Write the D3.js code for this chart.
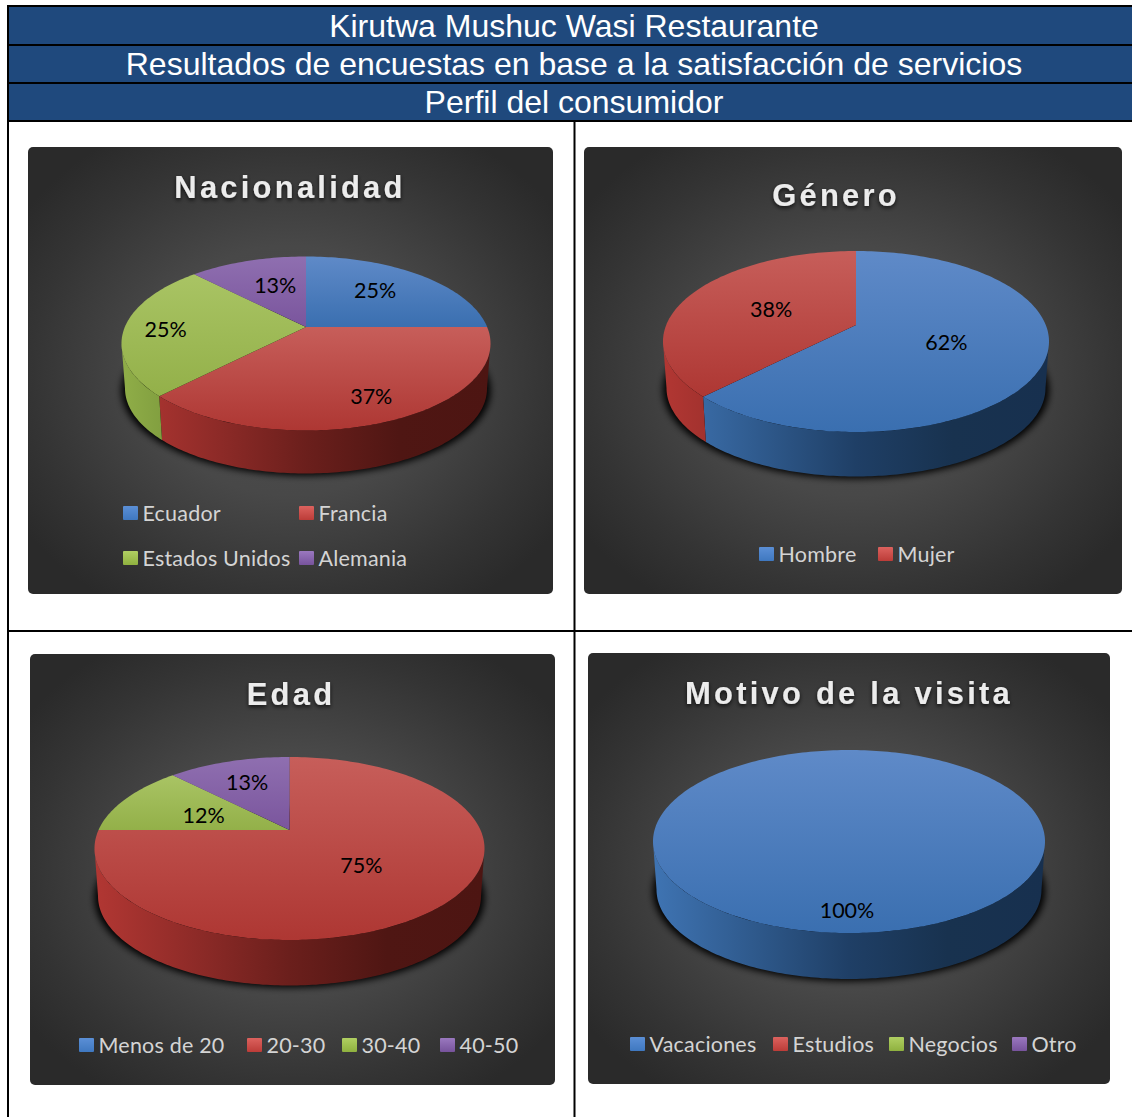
<!DOCTYPE html>
<html><head><meta charset="utf-8">
<script src="https://cdn.jsdelivr.net/npm/d3@7"></script>
<style>html,body{margin:0;padding:0;background:#fff;overflow:hidden}svg{display:block}</style>
</head><body><div id="c"></div>
<script>
// ---- data ----
const headerLines = ["Kirutwa Mushuc Wasi Restaurante","Resultados de encuestas en base a la satisfacción de servicios","Perfil del consumidor"];
const titles = ["Nacionalidad","Género","Edad","Motivo de la visita"];
const nacionalidadCats = ["Ecuador","Francia","Estados Unidos","Alemania"];
const nacionalidadVals = [25,37.5,25,12.5];
const nacionalidadLabels = ["25%","37%","25%","13%"];
const generoCats = ["Hombre","Mujer"];
const generoVals = [62.5,37.5];
const generoLabels = ["62%","38%"];
const edadCats = ["Menos de 20","20-30","30-40","40-50"];
const edadVals = [0,75,12.5,12.5];
const edadLabels = ["","75%","12%","13%"];
const motivoCats = ["Vacaciones","Estudios","Negocios","Otro"];
const motivoVals = [100,0,0,0];
const motivoLabels = ["100%","","",""];

// ---- colours ----
const topCols = [["#5f8ac8","#3a6fb0"],["#c75e5a","#ae3733"],["#a9c464","#93b049"],["#8f6fb0","#7a559d"]];
const sideCols = [["#3f74b3","#2f5a8d","#1f3f66","#18324f","#17304f"],["#b23733","#8f2b28","#6b1f1c","#4f1613","#4d1512"],["#90ae48","#6f8c35","#556b28","#3f501d","#3d4e1c"],["#7a559d","#5f4380","#46315f","#352548","#332347"]];
const swatchCols = [["#5b8fd6","#3f78c0"],["#dc625e","#bc3c38"],["#b0cf62","#8fb13f"],["#9a78bf","#77539c"]];

// ---- layout (pixels on the page) ----
const W=1132,H=1117;
const layout=[
 {px:28,py:147,pw:525,ph:447,cx:306,cy:343.5,rx:184.5,ry:87,ay:327,bottom:473.5,tx:290,ty:198,
  lab:[.61,.74,.78,.53], nudge:[[1,-3],[4,1],[1,3],[0,-5]],
  leg:[[123,513],[299,513],[123,558],[299,558]]},
 {px:584,py:147,pw:538,ph:447,cx:856,cy:341.5,rx:193,ry:90.5,ay:325,bottom:476.5,tx:836,ty:206,
  lab:[.48,.52], nudge:[[0,1],[0,2]],
  leg:[[759,554],[878,554]]},
 {px:30,py:654,pw:525,ph:431,cx:289.5,cy:848.5,rx:195,ry:91.5,ay:830,bottom:985.5,tx:291,ty:705,
  lab:[0,.46,.52,.7], nudge:[[0,0],[0,3],[-1,3],[0,1]],
  leg:[[79,1045],[247,1045],[342,1045],[440,1045]]},
 {px:588,py:653,pw:522,ph:431,cx:849,cy:841.5,rx:196,ry:91.5,ay:824,bottom:979,tx:849,ty:704,
  lab:[.79,0,0,0], nudge:[[-2,1],[0,0],[0,0],[0,0]],
  leg:[[630,1044],[773,1044],[889,1044],[1012,1044]]}
];
const charts=[
 {cats:nacionalidadCats,vals:nacionalidadVals,labels:nacionalidadLabels},
 {cats:generoCats,vals:generoVals,labels:generoLabels},
 {cats:edadCats,vals:edadVals,labels:edadLabels},
 {cats:motivoCats,vals:motivoVals,labels:motivoLabels}
];

const svg=d3.select("#c").append("svg").attr("width",W).attr("height",H).attr("viewBox",[0,0,W,H]);
const defs=svg.append("defs");
const f1=defs.append("filter").attr("id","pieShadow").attr("x","-20%").attr("y","-20%").attr("width","140%").attr("height","140%");
f1.append("feGaussianBlur").attr("stdDeviation",3.5);
const f2=defs.append("filter").attr("id","titleShadow").attr("x","-10%").attr("y","-30%").attr("width","120%").attr("height","170%");
f2.append("feDropShadow").attr("dx",0).attr("dy",2).attr("stdDeviation",2).attr("flood-color","#000").attr("flood-opacity",.75);
function lin(id,stops,x1,y1,x2,y2,bbox){
  const g=defs.append("linearGradient").attr("id",id).attr("gradientUnits",bbox?"objectBoundingBox":"userSpaceOnUse")
    .attr("x1",x1).attr("y1",y1).attr("x2",x2).attr("y2",y2);
  stops.forEach((c,i)=>g.append("stop").attr("offset",i/(stops.length-1)).attr("stop-color",c));
}
const panelG=defs.append("radialGradient").attr("id","panelBg").attr("cx",.5).attr("cy",.5).attr("r",.62);
[[0,"#4e4e4e"],[.45,"#484848"],[.8,"#343434"],[1,"#2a2a2a"]].forEach(s=>panelG.append("stop").attr("offset",s[0]).attr("stop-color",s[1]));
topCols.forEach((c,i)=>lin(`top${i}`,c,0,0,0,1,true));
swatchCols.forEach((c,i)=>lin(`sw${i}`,c,0,0,0,1,true));

// header + table rules
const rowY=d3.scaleBand().domain(d3.range(3)).range([6,120.5]);
svg.append("g").selectAll("rect").data(headerLines).join("rect")
  .attr("x",8).attr("width",W-8).attr("y",(d,i)=>rowY(i)).attr("height",rowY.bandwidth()).attr("fill","#1f497d");
svg.append("g").selectAll("text").data(headerLines).join("text")
  .attr("x",574).attr("y",(d,i)=>rowY(i)+rowY.bandwidth()/2+11.5).attr("text-anchor","middle")
  .attr("font-family","'Liberation Sans',Arial,sans-serif").attr("font-size",32).attr("fill","#fff").text(d=>d);
const rules=[[7,6,W,6],[7,45,W,45],[7,83,W,83],[7,121,W,121],[8,5,8,H],[574.5,121,574.5,H],[8,631,W,631]];
svg.append("g").selectAll("line").data(rules).join("line")
  .attr("x1",d=>d[0]).attr("y1",d=>d[1]).attr("x2",d=>d[2]).attr("y2",d=>d[3])
  .attr("stroke","#000").attr("stroke-width",2);

const line=d3.line();
charts.forEach((ch,ci)=>{
  const L=layout[ci], g=svg.append("g");
  g.append("rect").attr("x",L.px).attr("y",L.py).attr("width",L.pw).attr("height",L.ph).attr("rx",5).attr("fill","url(#panelBg)");
  g.append("text").attr("x",L.tx).attr("y",L.ty).attr("text-anchor","middle")
    .attr("font-family","'Liberation Sans',Arial,sans-serif").attr("font-weight",700).attr("font-size",31)
    .attr("letter-spacing",3.2).attr("fill","#ececec").attr("filter","url(#titleShadow)").text(titles[ci]);

  const rxB=L.rx-3.5, ryB=L.ry-2, cyB=L.bottom-ryB;
  const a=(L.ay-L.cy)/L.ry;
  const onRay=th=>{const dx=Math.sin(th),dy=-Math.cos(th);const s=-a*dy+Math.sqrt(a*a*dy*dy-a*a+1);return {dx,dy,s};};
  const paramOf=th=>{const r=onRay(th);return Math.atan2(a+r.s*r.dy,r.s*r.dx);};
  const topPt=t=>[L.cx+L.rx*Math.cos(t),L.cy+L.ry*Math.sin(t)];
  const botPt=t=>[L.cx+rxB*Math.cos(t),cyB+ryB*Math.sin(t)];
  const arcs=d3.pie().sort(null).value(d=>d)(ch.vals);
  const spans=arcs.map(d=>{
    let t0=paramOf(d.startAngle); let t1=paramOf(d.endAngle);
    if(t0< -Math.PI/2-1e-6) t0+=2*Math.PI;
    if(t1< -Math.PI/2-1e-6) t1+=2*Math.PI;
    if(d.endAngle-d.startAngle>=2*Math.PI-1e-6){t0=-Math.PI/2;t1=1.5*Math.PI;}
    else if(t1<t0) t1+=2*Math.PI;
    return {d,t0,t1};
  });
  const sample=(t0,t1,f)=>{const n=Math.max(2,Math.ceil(Math.abs(t1-t0)/0.02));return d3.range(n+1).map(i=>f(t0+(t1-t0)*i/n));};

  sideCols.forEach((c,i)=>lin(`side${ci}_${i}`,c,L.cx-L.rx,0,L.cx+L.rx,0));

  // drop shadow
  g.append("path").attr("d",line(sample(0,2*Math.PI,t=>[L.cx+L.rx*Math.cos(t),cyB+ryB*Math.sin(t)+2])))
    .attr("fill","#000").attr("filter","url(#pieShadow)");
  // side walls
  spans.forEach((s,i)=>{
    if(s.d.value===0)return;
    const a0=Math.max(s.t0,0),a1=Math.min(s.t1,Math.PI);
    if(a1<=a0)return;
    const pts=sample(a0,a1,topPt).concat(sample(a1,a0,botPt));
    g.append("path").attr("d",line(pts)+"Z").attr("fill",`url(#side${ci}_${i})`);
  });
  // top faces
  spans.forEach((s,i)=>{
    if(s.d.value===0)return;
    const pts=[[L.cx,L.ay]].concat(sample(s.t0,s.t1,topPt));
    g.append("path").attr("d",line(pts)+"Z").attr("fill",`url(#top${i})`);
  });
  // data labels
  spans.forEach((s,i)=>{
    if(s.d.value===0)return;
    const mid=(s.d.startAngle+s.d.endAngle)/2, r=onRay(mid), k=r.s*L.lab[i], n=L.nudge[i];
    g.append("text").attr("x",L.cx+L.rx*r.dx*k+n[0]).attr("y",L.ay+L.ry*r.dy*k+6.5+n[1]).attr("text-anchor","middle")
      .attr("font-family","Lato,'Open Sans',sans-serif").attr("font-size",21.5).attr("fill","#000").text(ch.labels[i]);
  });
  // legend
  ch.cats.forEach((c,i)=>{
    const [x,y]=L.leg[i];
    g.append("rect").attr("x",x).attr("y",y-7).attr("width",15).attr("height",14).attr("rx",1).attr("fill",`url(#sw${i})`);
    g.append("text").attr("x",x+19.5).attr("y",y+7.5).attr("font-family","Lato,'Open Sans',sans-serif")
      .attr("font-size",21.5).attr("letter-spacing",.2).attr("fill","#d4d4d4").text(c);
  });
});
</script></body></html>
